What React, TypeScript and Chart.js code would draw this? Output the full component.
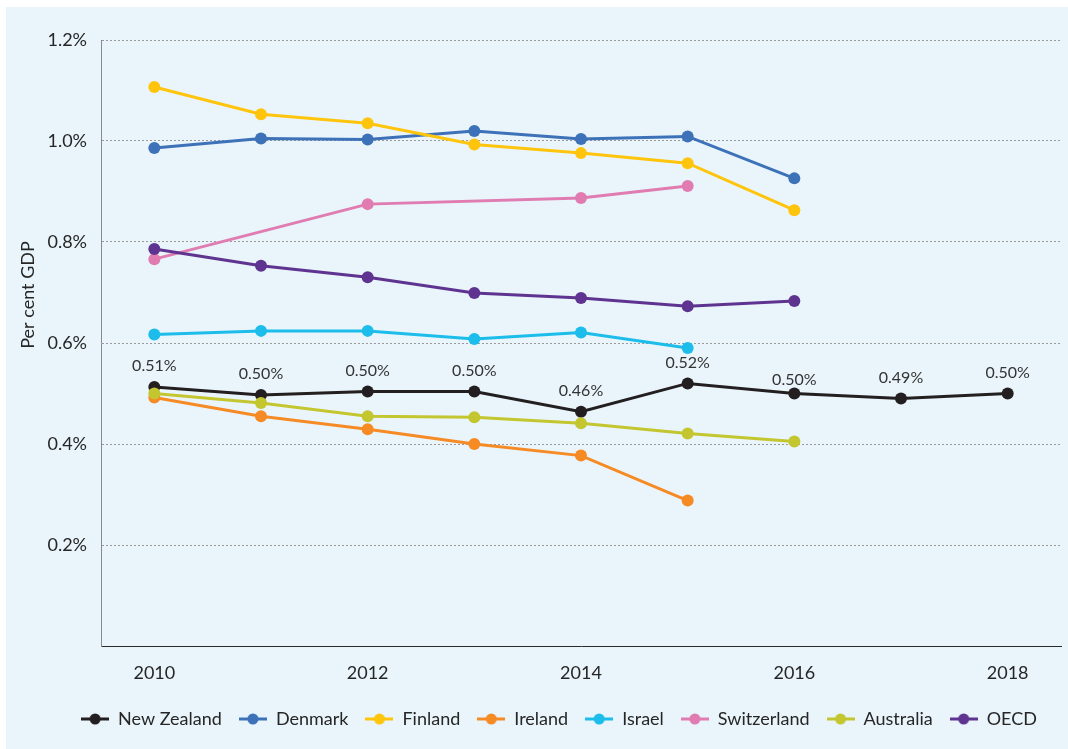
import React, { useEffect, useRef } from "react";
import { Chart, registerables } from "chart.js";

Chart.register(...registerables);

const years = ["2010", "2011", "2012", "2013", "2014", "2015", "2016", "2017", "2018"];
const newZealand = [0.513, 0.497, 0.504, 0.504, 0.464, 0.52, 0.5, 0.49, 0.5];
const newZealandLabels = ["0.51%", "0.50%", "0.50%", "0.50%", "0.46%", "0.52%", "0.50%", "0.49%", "0.50%"];
const denmark = [0.986, 1.005, 1.003, 1.02, 1.004, 1.009, 0.926, null, null];
const finland = [1.107, 1.053, 1.035, 0.993, 0.976, 0.956, 0.863, null, null];
const ireland = [0.492, 0.455, 0.429, 0.4, 0.377, 0.288, null, null, null];
const israel = [0.617, 0.624, 0.624, 0.608, 0.621, 0.59, null, null, null];
const switzerland = [0.766, null, 0.875, null, 0.887, 0.911, null, null, null];
const australia = [0.5, 0.481, 0.455, 0.453, 0.441, 0.421, 0.405, null, null];
const oecd = [0.786, 0.753, 0.73, 0.699, 0.689, 0.673, 0.683, null, null];
const yTicks = [0, 0.2, 0.4, 0.6, 0.8, 1.0, 1.2];

const seriesNames = ["New Zealand", "Denmark", "Finland", "Ireland", "Israel", "Switzerland", "Australia", "OECD"];
const seriesData = [newZealand, denmark, finland, ireland, israel, switzerland, australia, oecd];
const seriesColors = ["#231F20", "#3D72B8", "#FFC40C", "#F68B26", "#1CBDEA", "#E07CB1", "#C3C62F", "#5F3491"];

const FONT = "Lato, 'Open Sans', sans-serif";
const TEXT = "#262626";

function legendMarker(color: string): HTMLCanvasElement {
  const c = document.createElement("canvas");
  c.width = 28;
  c.height = 14;
  const g = c.getContext("2d")!;
  g.strokeStyle = color;
  g.lineWidth = 3;
  g.beginPath();
  g.moveTo(0, 7);
  g.lineTo(28, 7);
  g.stroke();
  g.fillStyle = color;
  g.beginPath();
  g.arc(14, 7, 5.5, 0, Math.PI * 2);
  g.fill();
  return c;
}

const yTitlePlugin = {
  id: "yTitle",
  afterDraw(chart: any) {
    const ctx = chart.ctx;
    ctx.save();
    ctx.translate(22, 288);
    ctx.rotate(-Math.PI / 2);
    ctx.font = `18px ${FONT}`;
    ctx.fillStyle = TEXT;
    ctx.textAlign = "center";
    ctx.textBaseline = "middle";
    ctx.fillText("Per cent GDP", 0, 0);
    ctx.restore();
  },
};

const legendShiftPlugin = {
  id: "legendShift",
  afterLayout(chart: any) {
    if (chart.legend) {
      chart.legend.left += 7;
      chart.legend.right += 7;
    }
  },
};

const nzLabelPlugin = {
  id: "nzLabels",
  afterDatasetsDraw(chart: any) {
    const meta = chart.getDatasetMeta(0);
    const ctx = chart.ctx;
    ctx.save();
    ctx.font = `16px ${FONT}`;
    ctx.fillStyle = "#333333";
    ctx.textAlign = "center";
    ctx.textBaseline = "middle";
    meta.data.forEach((pt: any, i: number) => {
      if (newZealand[i] == null) return;
      const lift = i === 6 ? 14 : 21;
      ctx.fillText(newZealandLabels[i], pt.x, pt.y - lift);
    });
    ctx.restore();
  },
};

export default function App() {
  const ref = useRef<HTMLCanvasElement>(null);

  useEffect(() => {
    if (!ref.current) return;
    const chart = new Chart(ref.current, {
      type: "line",
      data: {
        labels: years,
        datasets: seriesNames.map((name, i) => ({
          label: name,
          data: seriesData[i],
          borderColor: seriesColors[i],
          backgroundColor: seriesColors[i],
          pointBackgroundColor: seriesColors[i],
          pointBorderWidth: 0,
          pointRadius: 6,
          borderWidth: 3,
          spanGaps: true,
          tension: 0,
          fill: false,
          order: -i,
        })),
      },
      options: {
        responsive: false,
        animation: false,
        layout: { padding: { left: 37, top: 33, right: 7, bottom: 11 } },
        plugins: {
          tooltip: { enabled: false },
          legend: {
            position: "bottom",
            labels: {
              usePointStyle: true,
              pointStyleWidth: 28,
              padding: 17,
              color: TEXT,
              font: { family: FONT, size: 18 },
              sort: (a: any, b: any) => a.datasetIndex - b.datasetIndex,
              generateLabels: (chart: any) => {
                const items = Chart.defaults.plugins.legend.labels.generateLabels(chart);
                return items.map((it: any) => ({
                  ...it,
                  pointStyle: legendMarker(seriesColors[it.datasetIndex]),
                }));
              },
            },
          },
        },
        scales: {
          x: {
            offset: true,
            grid: { display: false, drawTicks: false },
            border: { display: true, color: "#2b2b2b", width: 1 },
            ticks: {
              autoSkip: false,
              maxRotation: 0,
              padding: 16,
              color: TEXT,
              font: { family: FONT, size: 18 },
              callback: (_v: any, i: number) => (i % 2 === 0 ? years[i] : ""),
            },
            afterFit: (s: any) => {
              s.height = 47;
            },
          },
          y: {
            min: yTicks[0],
            max: yTicks[yTicks.length - 1],
            afterBuildTicks: (s: any) => {
              s.ticks = yTicks.map((v) => ({ value: v }));
            },
            grid: {
              drawTicks: false,
              color: (c: any) => (c.tick && c.tick.value === 0 ? "rgba(0,0,0,0)" : "#9a9a9a"),
              lineWidth: 1,
            },
            border: { display: true, color: "#8a8a8a", width: 1, dash: [2, 2] },
            ticks: {
              padding: 14,
              color: TEXT,
              font: { family: FONT, size: 18 },
              callback: (v: any) => (v === 0 ? "" : Number(v).toFixed(1) + "%"),
            },
            afterFit: (s: any) => {
              s.width = 58;
            },
          },
        },
      },
      plugins: [yTitlePlugin, legendShiftPlugin, nzLabelPlugin],
    });
    return () => chart.destroy();
  }, []);

  return (
    <div
      style={{
        position: "absolute",
        left: 6,
        top: 7,
        width: 1062,
        height: 742,
        background: "#E9F5FB",
      }}
    >
      <canvas ref={ref} width={1062} height={742} style={{ display: "block" }} />
    </div>
  );
}
